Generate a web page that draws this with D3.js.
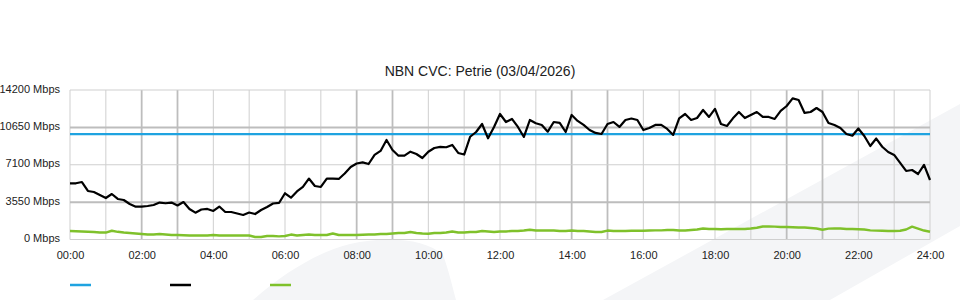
<!DOCTYPE html>
<html>
<head>
<meta charset="utf-8">
<script src="https://cdn.jsdelivr.net/npm/d3@7"></script>
<style>
  html, body { margin: 0; padding: 0; background: #fff; }
  svg { display: block; font-family: "Liberation Sans", Arial, sans-serif; }
</style>
</head>
<body>
<svg id="chart" width="960" height="300"></svg>
<script>
// ---- Data (10-minute samples, 00:00 .. 24:00) ----
const title = "NBN CVC: Petrie (03/04/2026)";
const yTicks = [0, 3550, 7100, 10650, 14200];
const xTickHours = [0, 2, 4, 6, 8, 10, 12, 14, 16, 18, 20, 22, 24];
const capacity = 10000; // Mbps (blue line)

const downloadMbps = [
  5340, 5340, 5460, 4610, 4510, 4230, 3940, 4320, 3850, 3750,
  3370, 3120, 3120, 3180, 3280, 3510, 3440, 3510, 3230, 3560,
  2900, 2550, 2850, 2900, 2710, 3130, 2610, 2610, 2470, 2330,
  2560, 2420, 2800, 3090, 3420, 3470, 4390, 3970, 4560, 4990,
  5790, 5080, 4990, 5790, 5790, 5750, 6270, 6890, 7220, 7330,
  7170, 8030, 8410, 9450, 8500, 7960, 7960, 8340, 8120, 7740,
  8340, 8690, 8790, 8760, 8980, 8220, 8070, 9760, 10210, 10970,
  9610, 10690, 11920, 11160, 11450, 10690, 9740, 11350, 11040, 10880,
  10240, 11160, 11070, 10210, 11830, 11260, 10880, 10400, 10120, 10020,
  10970, 11160, 10690, 11350, 11490, 11350, 10400, 10590, 10880, 10880,
  10500, 9930, 11510, 11920, 11350, 11540, 12300, 11640, 12400, 10970,
  10780, 11510, 12110, 11540, 11830, 12110, 11640, 11640, 11450, 12210,
  12680, 13410, 13250, 12020, 12110, 12490, 12110, 11070, 10880, 10590,
  10020, 9860, 10540, 9830, 8880, 9590, 8810, 8310, 8030, 7270,
  6510, 6600, 6220, 7080, 5650
];

const uploadMbps = [
  810, 780, 760, 740, 710, 660, 660, 830, 730, 660,
  620, 570, 520, 470, 470, 520, 470, 430, 430, 400,
  380, 380, 380, 380, 430, 380, 380, 380, 380, 380,
  380, 240, 240, 330, 330, 300, 330, 470, 380, 430,
  470, 430, 430, 430, 570, 430, 430, 430, 430, 450,
  470, 470, 520, 520, 570, 620, 620, 710, 620, 570,
  550, 620, 620, 660, 760, 660, 660, 710, 710, 810,
  760, 710, 760, 760, 810, 810, 850, 930, 850, 850,
  850, 850, 810, 810, 850, 810, 810, 760, 710, 710,
  850, 810, 810, 810, 830, 830, 830, 850, 870, 870,
  900, 900, 850, 850, 900, 950, 1040, 1000, 1000, 970,
  1000, 1000, 1000, 1000, 1040, 1120, 1230, 1250, 1220, 1190,
  1190, 1170, 1140, 1140, 1090, 1040, 930, 1030, 1060, 1040,
  1000, 1000, 970, 950, 870, 840, 830, 810, 810, 830,
  950, 1220, 1040, 850, 740
];

const minutes = downloadMbps.map((d, i) => i * 10);

// ---- Layout ----
const svg = d3.select("#chart");
const plotLeft = 70, plotRight = 930, plotTop = 90, plotBottom = 239.5;

const x = d3.scaleLinear().domain([0, 1440]).range([plotLeft, plotRight]);
const y = d3.scaleLinear().domain([0, 14200]).range([plotBottom, plotTop]);

// ---- Background watermark ----
const bg = svg.append("g").attr("fill", "#f4f5f7");
bg.append("path").attr("d", "M253,300 C285,272 318,252 350,244 C385,236 425,238 443,255 C448,268 452,285 456,300 Z");
bg.append("path").attr("d", "M603,300 L960,104 L960,226 L830,300 Z");

// ---- Grid ----
const grid = svg.append("g");
d3.range(0, 25).forEach(h => {
  const heavy = (h % 6 === 2 || h % 6 === 3);
  grid.append("line")
    .attr("x1", x(h * 60)).attr("x2", x(h * 60))
    .attr("y1", plotTop).attr("y2", plotBottom)
    .attr("stroke", heavy ? "#bdbdbd" : "#cfcfcf")
    .attr("stroke-width", heavy ? 1.8 : 1);
});
yTicks.forEach(v => {
  const heavy = (v === 3550 || v === 10650);
  grid.append("line")
    .attr("x1", plotLeft).attr("x2", plotRight)
    .attr("y1", y(v)).attr("y2", y(v))
    .attr("stroke", heavy ? "#bdbdbd" : "#cfcfcf")
    .attr("stroke-width", heavy ? 2 : 1);
});

// ---- Axes labels ----
const yAxis = d3.axisLeft(y).tickValues(yTicks).tickSize(0).tickPadding(10)
  .tickFormat(d => d + " Mbps");
svg.append("g").attr("transform", `translate(${plotLeft},0)`).call(yAxis)
  .call(g => g.select(".domain").remove())
  .call(g => g.selectAll("text").attr("font-size", 11).attr("fill", "#222")
    .attr("font-family", "Liberation Sans, Arial, sans-serif").attr("dy", "0.2em"));

const xAxis = d3.axisBottom(x).tickValues(xTickHours.map(h => h * 60)).tickSize(0).tickPadding(12)
  .tickFormat(m => String(m / 60).padStart(2, "0") + ":00");
svg.append("g").attr("transform", `translate(0,${plotBottom})`).call(xAxis)
  .call(g => g.select(".domain").remove())
  .call(g => g.selectAll("text").attr("font-size", 11).attr("fill", "#222")
    .attr("font-family", "Liberation Sans, Arial, sans-serif"));

// ---- Title ----
svg.append("text").attr("x", 480).attr("y", 76).attr("text-anchor", "middle")
  .attr("font-size", 14).attr("fill", "#222").text(title);

// ---- Series ----
const line = d3.line().x((d, i) => x(minutes[i])).y(d => y(d));

svg.append("line")
  .attr("x1", x(0)).attr("x2", x(1440))
  .attr("y1", y(capacity)).attr("y2", y(capacity))
  .attr("stroke", "#1fa3e0").attr("stroke-width", 2.2);

svg.append("path").datum(uploadMbps).attr("d", line)
  .attr("fill", "none").attr("stroke", "#7fc12b").attr("stroke-width", 2.4)
  .attr("stroke-linejoin", "round");

svg.append("path").datum(downloadMbps).attr("d", line)
  .attr("fill", "none").attr("stroke", "#000").attr("stroke-width", 2.2)
  .attr("stroke-linejoin", "round");

// ---- Legend (swatches only) ----
const legendColors = ["#1fa3e0", "#000", "#7fc12b"];
const legendX = d3.scalePoint().domain([0, 1, 2]).range([70, 270]);
svg.append("g").selectAll("line").data(legendColors).join("line")
  .attr("x1", (d, i) => legendX(i)).attr("x2", (d, i) => legendX(i) + 21)
  .attr("y1", 285).attr("y2", 285)
  .attr("stroke", d => d).attr("stroke-width", 2.5);
</script>
</body>
</html>
